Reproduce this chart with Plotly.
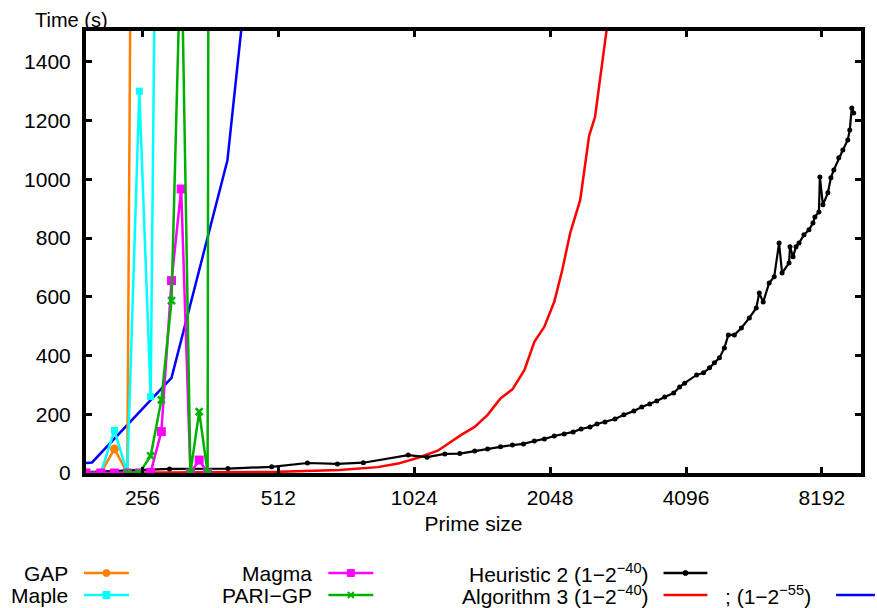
import plotly.graph_objects as go
import math

# ---------------- data ----------------
gap_x = [192, 207, 222, 237, 252]
gap_y = [0, 0, 82, 0, 6300]

maple_x = [192, 207, 222, 237, 252, 267, 282]
maple_y = [0, 0, 145, 0, 1300, 260, 4000]

magma_x = [192, 207, 222, 237, 252, 267, 282, 297, 312, 327, 342, 357]
magma_y = [0, 0, 0, 0, 0, 2, 141, 655, 967, 0, 44, 0]

pari_x = [237, 252, 267, 282, 297, 312, 327, 342, 357, 372]
pari_y = [0, 0, 58, 249, 587, 1850, 0, 209, 0, 18000]

heur_x = [192, 294, 396, 495, 594, 692, 790, 993, 1093, 1197, 1292, 1394, 1489, 1590, 1690, 1788, 1890,
          1989, 2092, 2201, 2304, 2399, 2511, 2602, 2710, 2851, 2984, 3139, 3269, 3405, 3528, 3674, 3846,
          3965, 4067, 4323, 4479, 4618, 4735, 4857, 4982, 5084, 5242, 5432, 5658, 5862, 5952, 6072, 6259,
          6423, 6585, 6686, 6927, 6963, 7070, 7180, 7290, 7476, 7669, 7826, 7906, 8068, 8108, 8233, 8445,
          8576, 8707, 8929, 9116, 9347, 9444, 9540, 9635]
heur_y = [3, 14, 15, 21, 34, 31, 35, 61, 54, 65, 66, 75, 82, 89, 95, 99, 109,
          116, 126, 133, 140, 150, 157, 167, 174, 184, 198, 211, 225, 235, 245, 259, 272,
          293, 306, 334, 341, 358, 375, 392, 426, 470, 470, 494, 528, 562, 613, 582, 647,
          668, 783, 681, 715, 770, 736, 770, 783, 811, 828, 851, 872, 889, 1008, 913, 954,
          1005, 1032, 1073, 1100, 1134, 1168, 1243, 1226]

alg40_x = [192, 300, 400, 512, 700, 850, 943, 1044, 1155, 1216, 1299, 1394, 1489, 1590, 1690, 1797,
           1890, 1989, 2092, 2179, 2269, 2388, 2499, 2576, 2696, 2760]
alg40_y = [0, 1, 2, 4, 10, 20, 32, 52, 76, 100, 129, 157, 198, 254, 285, 351,
           447, 498, 583, 691, 817, 930, 1148, 1213, 1431, 1560]

alg55_x = [192, 198, 297, 395, 430]
alg55_y = [34, 36, 324, 1065, 1600]

x_ticks = [256, 512, 1024, 2048, 4096, 8192]
y_ticks = [0, 200, 400, 600, 800, 1000, 1200, 1400]

# ---------------- styles ----------------
C_GAP = "#ff8000"
C_MAPLE = "#00ffff"
C_MAGMA = "#ff00ff"
C_PARI = "#00b000"
C_HEUR = "#000000"
C_A40 = "#ff0000"
C_A55 = "#0000ff"
FONT = "Liberation Sans, Arial, sans-serif"
FS = 21

fig = go.Figure()

fig.add_trace(go.Scatter(x=alg40_x, y=alg40_y, mode="lines", line=dict(color=C_A40, width=2.5),
                         name="Algorithm 3 (1-2^-40)"))
fig.add_trace(go.Scatter(x=alg55_x, y=alg55_y, mode="lines", line=dict(color=C_A55, width=2.5),
                         name="(1-2^-55)"))
fig.add_trace(go.Scatter(x=heur_x, y=heur_y, mode="lines+markers", line=dict(color=C_HEUR, width=2.2),
                         marker=dict(symbol="circle", size=5, color=C_HEUR), name="Heuristic 2"))
fig.add_trace(go.Scatter(x=gap_x, y=gap_y, mode="lines+markers", line=dict(color=C_GAP, width=2.5),
                         marker=dict(symbol="circle", size=9, color=C_GAP), name="GAP"))
fig.add_trace(go.Scatter(x=maple_x, y=maple_y, mode="lines+markers", line=dict(color=C_MAPLE, width=2.5),
                         marker=dict(symbol="square", size=7, color=C_MAPLE), name="Maple"))
fig.add_trace(go.Scatter(x=magma_x, y=magma_y, mode="lines+markers", line=dict(color=C_MAGMA, width=2.5),
                         marker=dict(symbol="square", size=9, color=C_MAGMA), name="Magma"))
fig.add_trace(go.Scatter(x=pari_x, y=pari_y, mode="lines+markers", line=dict(color=C_PARI, width=2.5),
                         marker=dict(symbol="x-thin-open", size=7, color=C_PARI,
                                     line=dict(color=C_PARI, width=2.5)), name="PARI-GP"))

L, R, T, B = 86, 863, 31, 473
W, H = 877, 608

fig.update_layout(
    width=W, height=H,
    margin=dict(l=L, r=W - R, t=T, b=H - B, pad=0),
    paper_bgcolor="white", plot_bgcolor="white",
    showlegend=False,
    font=dict(family=FONT, size=FS, color="black"),
    xaxis=dict(type="log", range=[math.log10(192), math.log10(10000)],
               tickvals=x_ticks, ticktext=[str(v) for v in x_ticks],
               showgrid=False, zeroline=False,
               showline=True, linecolor="black", linewidth=4, mirror="allticks",
               ticks="inside", ticklen=6, tickwidth=3, tickcolor="black",
               ticklabelstandoff=3,
               title=dict(text="Prime size", font=dict(size=FS), standoff=9)),
    yaxis=dict(range=[0, 1505], tickvals=y_ticks,
               showgrid=False, zeroline=False,
               showline=True, linecolor="black", linewidth=4, mirror="allticks",
               ticks="inside", ticklen=6, tickwidth=3, tickcolor="black",
               ticklabelstandoff=7),
)

def px(xp):
    return (xp - L) / (R - L)

def py(yp):
    return (B - yp) / (B - T)

ann = [dict(text="Time (s)", x=px(110), y=py(20), xanchor="right", yanchor="middle",
            font=dict(family=FONT, size=20, color="black"))]

# legend entries: (text, right edge of text, row y, line x0, line x1, color, marker)
legend = [
    ("GAP", 70, 573, 84, 129, C_GAP, "circle"),
    ("Maple", 70, 595, 84, 129, C_MAPLE, "square"),
    ("Magma", 315, 573, 329, 374, C_MAGMA, "square"),
    ("PARI\u2212GP", 315, 595, 329, 374, C_PARI, "x"),
    ("Heuristic 2 (1\u22122<sup>\u221240</sup>)", 652, 573, 665, 709, C_HEUR, "dot"),
    ("Algorithm 3 (1\u22122<sup>\u221240</sup>)", 652, 595, 665, 709, C_A40, None),
    ("; (1\u22122<sup>\u221255</sup>)", 815, 595, 838, 877, C_A55, None),
]
shapes = []
for text, xr, yr, x0, x1, col, mk in legend:
    ann.append(dict(text=text, x=px(xr), y=py(yr), xanchor="right", yanchor="middle",
                    font=dict(family=FONT, size=FS, color="black")))
    shapes.append(dict(type="line", xref="paper", yref="paper", x0=px(x0), x1=px(x1),
                       y0=py(yr), y1=py(yr), line=dict(color=col, width=2.5)))
    xc = (x0 + x1) / 2
    if mk == "circle":
        shapes.append(dict(type="circle", xref="paper", yref="paper", x0=px(xc - 3.5), x1=px(xc + 3.5),
                           y0=py(yr - 3.5), y1=py(yr + 3.5), fillcolor=col, line=dict(color=col, width=1)))
    elif mk == "square":
        shapes.append(dict(type="rect", xref="paper", yref="paper", x0=px(xc - 3.5), x1=px(xc + 3.5),
                           y0=py(yr - 3.5), y1=py(yr + 3.5), fillcolor=col, line=dict(color=col, width=1)))
    elif mk == "dot":
        shapes.append(dict(type="circle", xref="paper", yref="paper", x0=px(xc - 2.5), x1=px(xc + 2.5),
                           y0=py(yr - 2.5), y1=py(yr + 2.5), fillcolor=col, line=dict(color=col, width=1)))
    elif mk == "x":
        for s in (1, -1):
            shapes.append(dict(type="line", xref="paper", yref="paper", x0=px(xc - 3), x1=px(xc + 3),
                               y0=py(yr - 3 * s), y1=py(yr + 3 * s), line=dict(color=col, width=2)))

for a in ann:
    a.update(xref="paper", yref="paper", showarrow=False)
fig.update_layout(annotations=ann, shapes=shapes)

fig.write_html("out.html", config={"displayModeBar": False},
               post_script="document.body.style.margin='0px';document.body.style.overflow='hidden';")
